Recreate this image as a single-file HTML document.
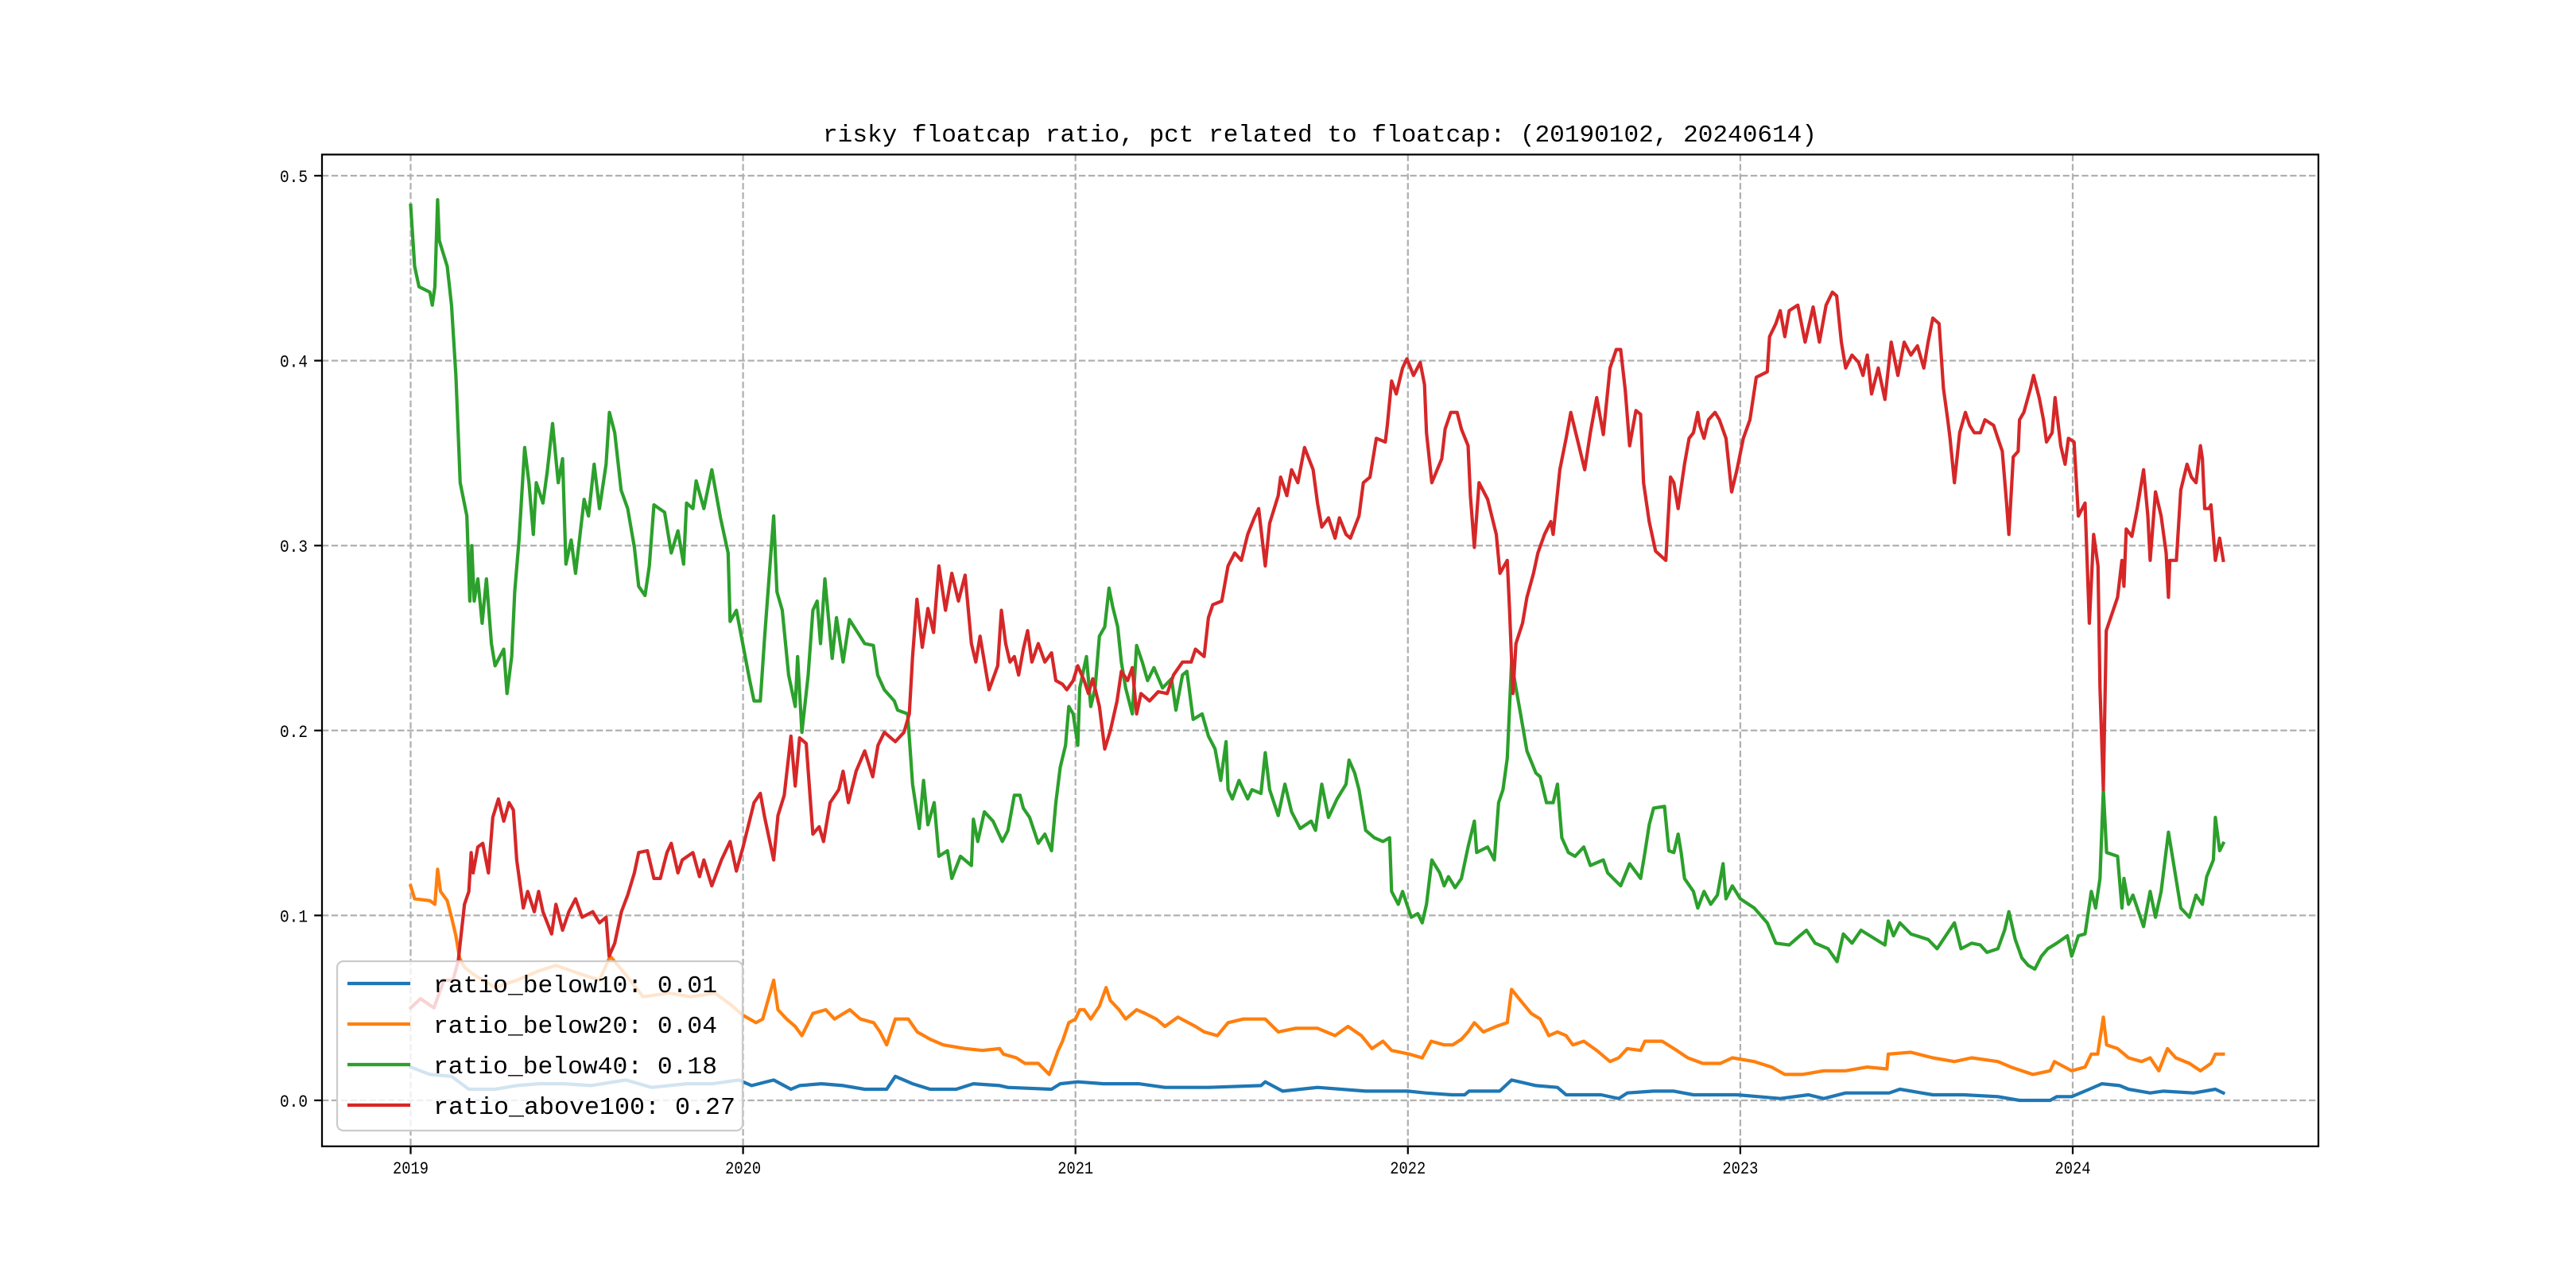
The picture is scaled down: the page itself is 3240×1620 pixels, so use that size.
<!DOCTYPE html>
<html><head><meta charset="utf-8">
<style>
html,body{margin:0;padding:0;background:#fff;}
svg{display:block;}
text{font-family:"Liberation Mono","Noto Sans CJK SC",monospace;fill:#000;}
</style></head>
<body>
<svg id="chart" width="3240" height="1620" viewBox="0 0 3240 1620" xmlns="http://www.w3.org/2000/svg">
  <rect x="0" y="0" width="3240" height="1620" fill="#fff"/>
  <g id="grid"></g>
  <g id="series"></g>
  <rect x="405" y="194.4" width="2511" height="1247.4" fill="none" stroke="#000" stroke-width="2.25"/>
  <g id="ticks"></g>
  <text x="1660" y="178" font-size="31" text-anchor="middle" textLength="1250" lengthAdjust="spacingAndGlyphs">risky floatcap ratio, pct related to floatcap: (20190102, 20240614)</text>
  <g id="legend"></g>
</svg>
<script>
const xTickValues = [2019, 2020, 2021, 2022, 2023, 2024];
const xTickLabels = ["2019", "2020", "2021", "2022", "2023", "2024"];
const yTickValues = [0, 0.1, 0.2, 0.3, 0.4, 0.5];
const yTickLabels = ["0.0", "0.1", "0.2", "0.3", "0.4", "0.5"];
const seriesNames = ["ratio_below10: 0.01", "ratio_below20: 0.04", "ratio_below40: 0.18", "ratio_above100: 0.27"];
const seriesColors = ["#1f77b4", "#ff7f0e", "#2ca02c", "#d62728"];

const tBlue = [2019.0,2019.058,2019.123,2019.175,2019.254,2019.319,2019.385,2019.463,2019.542,2019.647,2019.725,2019.83,2019.908,2019.987,2020.026,2020.092,2020.144,2020.17,2020.236,2020.301,2020.366,2020.432,2020.458,2020.51,2020.563,2020.641,2020.693,2020.772,2020.796,2020.928,2020.954,2021.007,2021.085,2021.19,2021.269,2021.4,2021.558,2021.571,2021.623,2021.728,2021.873,2022.0,2022.053,2022.132,2022.171,2022.184,2022.276,2022.312,2022.385,2022.45,2022.476,2022.581,2022.634,2022.66,2022.739,2022.8,2022.859,2022.99,2023.055,2023.12,2023.205,2023.251,2023.317,2023.448,2023.48,2023.579,2023.671,2023.775,2023.84,2023.932,2023.952,2023.997,2024.05,2024.088,2024.141,2024.168,2024.233,2024.272,2024.364,2024.429,2024.453];
const vBlue = [.018,.014,.013,.006,.006,.008,.009,.009,.008,.011,.007,.009,.009,.011,.008,.011,.006,.008,.009,.008,.006,.006,.013,.009,.006,.006,.009,.008,.007,.006,.009,.01,.009,.009,.007,.007,.008,.01,.005,.007,.005,.005,.004,.003,.003,.005,.005,.011,.008,.007,.003,.003,.001,.004,.005,.005,.003,.003,.002,.001,.003,.001,.004,.004,.006,.003,.003,.002,0,0,.002,.002,.006,.009,.008,.006,.004,.005,.004,.006,.004];

const tOrange = [2019.0,2019.012,2019.058,2019.073,2019.081,2019.09,2019.11,2019.123,2019.136,2019.147,2019.162,2019.19,2019.254,2019.32,2019.385,2019.437,2019.516,2019.568,2019.6,2019.647,2019.699,2019.777,2019.843,2019.915,2019.961,2020.0,2020.039,2020.059,2020.092,2020.105,2020.131,2020.157,2020.177,2020.21,2020.249,2020.275,2020.321,2020.353,2020.393,2020.412,2020.432,2020.458,2020.497,2020.524,2020.563,2020.602,2020.668,2020.72,2020.772,2020.783,2020.822,2020.848,2020.888,2020.921,2020.934,2020.948,2020.961,2020.98,2021.0,2021.013,2021.026,2021.046,2021.072,2021.092,2021.105,2021.131,2021.151,2021.184,2021.21,2021.243,2021.269,2021.308,2021.361,2021.387,2021.427,2021.459,2021.505,2021.571,2021.61,2021.663,2021.728,2021.781,2021.82,2021.86,2021.892,2021.925,2021.951,2022.004,2022.043,2022.07,2022.109,2022.135,2022.161,2022.181,2022.2,2022.227,2022.266,2022.299,2022.312,2022.339,2022.371,2022.398,2022.424,2022.45,2022.476,2022.496,2022.529,2022.568,2022.608,2022.634,2022.66,2022.7,2022.713,2022.765,2022.809,2022.842,2022.887,2022.94,2022.976,2023.042,2023.094,2023.134,2023.186,2023.251,2023.317,2023.382,2023.441,2023.445,2023.513,2023.579,2023.644,2023.696,2023.775,2023.814,2023.88,2023.932,2023.945,2023.997,2024.037,2024.056,2024.075,2024.092,2024.102,2024.135,2024.168,2024.207,2024.233,2024.259,2024.285,2024.31,2024.351,2024.384,2024.416,2024.429,2024.453];
const vOrange = [.116,.109,.108,.106,.125,.113,.108,.099,.089,.077,.072,.068,.061,.065,.07,.073,.068,.065,.078,.068,.056,.058,.056,.058,.052,.046,.042,.044,.065,.049,.044,.04,.035,.047,.049,.044,.049,.044,.042,.037,.03,.044,.044,.037,.033,.03,.028,.027,.028,.025,.023,.02,.02,.014,.02,.027,.032,.042,.044,.049,.049,.044,.051,.061,.054,.049,.044,.049,.047,.044,.04,.045,.04,.037,.035,.042,.044,.044,.037,.039,.039,.035,.04,.035,.028,.032,.027,.025,.023,.032,.03,.03,.033,.037,.042,.037,.04,.042,.06,.054,.047,.044,.035,.037,.035,.03,.032,.027,.021,.023,.028,.027,.032,.032,.027,.023,.02,.02,.023,.021,.018,.014,.014,.016,.016,.018,.017,.025,.026,.023,.021,.023,.021,.018,.014,.016,.021,.016,.018,.025,.025,.045,.03,.028,.023,.021,.023,.016,.028,.023,.02,.016,.02,.025,.025];

const tGreen = [2019.0,2019.012,2019.025,2019.058,2019.065,2019.073,2019.081,2019.086,2019.11,2019.123,2019.136,2019.149,2019.169,2019.178,2019.184,2019.191,2019.202,2019.215,2019.228,2019.243,2019.254,2019.28,2019.29,2019.304,2019.313,2019.326,2019.343,2019.356,2019.369,2019.378,2019.398,2019.411,2019.427,2019.444,2019.457,2019.467,2019.483,2019.496,2019.522,2019.535,2019.552,2019.568,2019.588,2019.598,2019.614,2019.633,2019.653,2019.673,2019.686,2019.705,2019.718,2019.732,2019.764,2019.784,2019.804,2019.821,2019.83,2019.849,2019.859,2019.882,2019.906,2019.932,2019.955,2019.961,2019.98,2020.0,2020.02,2020.033,2020.052,2020.065,2020.092,2020.102,2020.118,2020.137,2020.157,2020.164,2020.177,2020.196,2020.21,2020.223,2020.233,2020.246,2020.268,2020.281,2020.301,2020.32,2020.366,2020.392,2020.405,2020.425,2020.455,2020.465,2020.495,2020.51,2020.53,2020.543,2020.556,2020.575,2020.589,2020.615,2020.628,2020.654,2020.687,2020.693,2020.706,2020.726,2020.752,2020.78,2020.797,2020.816,2020.833,2020.843,2020.862,2020.888,2020.908,2020.928,2020.941,2020.954,2020.97,2020.98,2020.993,2021.007,2021.013,2021.033,2021.046,2021.059,2021.072,2021.088,2021.101,2021.112,2021.127,2021.138,2021.151,2021.171,2021.184,2021.201,2021.217,2021.236,2021.262,2021.289,2021.302,2021.322,2021.335,2021.354,2021.381,2021.4,2021.42,2021.437,2021.453,2021.459,2021.472,2021.492,2021.518,2021.531,2021.558,2021.571,2021.584,2021.61,2021.63,2021.65,2021.676,2021.709,2021.722,2021.741,2021.761,2021.787,2021.814,2021.823,2021.84,2021.853,2021.873,2021.899,2021.925,2021.945,2021.951,2021.971,2021.984,2022.01,2022.03,2022.043,2022.056,2022.072,2022.096,2022.109,2022.122,2022.142,2022.161,2022.181,2022.2,2022.207,2022.24,2022.26,2022.273,2022.286,2022.299,2022.312,2022.325,2022.339,2022.358,2022.385,2022.398,2022.417,2022.437,2022.45,2022.463,2022.483,2022.503,2022.529,2022.549,2022.588,2022.601,2022.64,2022.667,2022.7,2022.713,2022.726,2022.739,2022.772,2022.785,2022.8,2022.813,2022.822,2022.832,2022.859,2022.872,2022.891,2022.911,2022.931,2022.948,2022.957,2022.976,2023.0,2023.042,2023.081,2023.107,2023.147,2023.179,2023.199,2023.225,2023.264,2023.291,2023.31,2023.336,2023.363,2023.408,2023.435,2023.445,2023.461,2023.48,2023.513,2023.565,2023.592,2023.618,2023.644,2023.664,2023.696,2023.722,2023.742,2023.775,2023.795,2023.808,2023.827,2023.847,2023.866,2023.886,2023.906,2023.925,2023.952,2023.984,2023.997,2024.017,2024.037,2024.056,2024.069,2024.082,2024.092,2024.102,2024.135,2024.148,2024.154,2024.168,2024.181,2024.213,2024.233,2024.249,2024.266,2024.288,2024.298,2024.325,2024.351,2024.371,2024.39,2024.403,2024.423,2024.429,2024.442,2024.453];
const vGreen = [.484,.451,.44,.437,.43,.44,.487,.465,.451,.43,.392,.334,.316,.27,.30,.27,.282,.258,.282,.247,.235,.244,.22,.24,.275,.303,.353,.334,.306,.334,.323,.34,.366,.334,.347,.29,.303,.285,.325,.316,.344,.32,.344,.372,.361,.33,.32,.299,.278,.273,.289,.322,.318,.296,.308,.29,.323,.32,.335,.32,.341,.315,.296,.259,.265,.246,.227,.216,.216,.251,.316,.275,.265,.23,.213,.24,.199,.23,.265,.27,.247,.282,.239,.261,.237,.26,.247,.246,.23,.222,.216,.211,.209,.171,.147,.173,.149,.161,.132,.135,.12,.132,.127,.152,.14,.156,.151,.14,.146,.165,.165,.158,.153,.139,.144,.135,.161,.18,.192,.213,.209,.192,.223,.24,.213,.223,.251,.256,.277,.267,.256,.237,.223,.209,.246,.237,.227,.234,.223,.228,.211,.23,.232,.206,.209,.197,.19,.173,.194,.168,.163,.173,.163,.168,.166,.188,.168,.154,.171,.156,.147,.151,.146,.171,.153,.163,.171,.184,.177,.168,.146,.142,.14,.142,.113,.106,.113,.099,.101,.096,.106,.13,.123,.116,.121,.115,.12,.137,.151,.134,.137,.13,.161,.168,.185,.237,.223,.209,.189,.177,.175,.161,.161,.171,.142,.134,.132,.137,.127,.13,.123,.116,.128,.12,.134,.149,.158,.159,.135,.134,.144,.134,.12,.113,.104,.113,.106,.111,.128,.109,.116,.109,.104,.096,.085,.084,.089,.092,.085,.082,.075,.09,.085,.092,.087,.084,.097,.089,.096,.09,.087,.082,.089,.096,.082,.085,.084,.08,.082,.092,.102,.087,.077,.073,.071,.078,.082,.085,.089,.078,.089,.09,.113,.104,.12,.168,.134,.132,.104,.12,.106,.111,.094,.113,.099,.113,.145,.134,.104,.099,.111,.106,.121,.13,.153,.135,.139];

const tRed = [2019.0,2019.03,2019.07,2019.1,2019.127,2019.143,2019.149,2019.162,2019.175,2019.182,2019.188,2019.202,2019.217,2019.234,2019.247,2019.264,2019.28,2019.296,2019.309,2019.319,2019.339,2019.352,2019.372,2019.385,2019.398,2019.424,2019.437,2019.457,2019.476,2019.496,2019.516,2019.548,2019.568,2019.588,2019.597,2019.614,2019.634,2019.653,2019.673,2019.686,2019.712,2019.732,2019.751,2019.771,2019.784,2019.804,2019.817,2019.849,2019.869,2019.882,2019.906,2019.935,2019.961,2019.98,2020.0,2020.033,2020.052,2020.065,2020.092,2020.105,2020.124,2020.144,2020.157,2020.17,2020.19,2020.21,2020.229,2020.242,2020.262,2020.288,2020.301,2020.317,2020.34,2020.366,2020.39,2020.406,2020.425,2020.458,2020.484,2020.5,2020.51,2020.523,2020.539,2020.556,2020.573,2020.589,2020.609,2020.628,2020.648,2020.668,2020.687,2020.7,2020.713,2020.74,2020.766,2020.777,2020.79,2020.803,2020.816,2020.829,2020.843,2020.856,2020.869,2020.888,2020.908,2020.928,2020.941,2020.961,2020.974,2020.993,2021.007,2021.026,2021.039,2021.052,2021.072,2021.088,2021.105,2021.125,2021.138,2021.157,2021.171,2021.184,2021.197,2021.223,2021.249,2021.276,2021.295,2021.322,2021.348,2021.361,2021.387,2021.4,2021.413,2021.44,2021.459,2021.479,2021.499,2021.518,2021.538,2021.551,2021.571,2021.584,2021.61,2021.617,2021.636,2021.65,2021.669,2021.689,2021.715,2021.728,2021.741,2021.761,2021.781,2021.794,2021.814,2021.827,2021.853,2021.866,2021.886,2021.905,2021.932,2021.938,2021.951,2021.965,2021.984,2021.997,2022.017,2022.037,2022.05,2022.056,2022.072,2022.102,2022.112,2022.129,2022.148,2022.161,2022.181,2022.188,2022.2,2022.214,2022.24,2022.266,2022.277,2022.299,2022.306,2022.316,2022.325,2022.345,2022.358,2022.378,2022.391,2022.411,2022.43,2022.437,2022.457,2022.476,2022.49,2022.509,2022.532,2022.549,2022.568,2022.588,2022.608,2022.627,2022.64,2022.654,2022.667,2022.686,2022.7,2022.709,2022.726,2022.745,2022.776,2022.79,2022.8,2022.813,2022.832,2022.846,2022.859,2022.872,2022.878,2022.891,2022.904,2022.924,2022.937,2022.957,2022.974,2022.99,2023.009,2023.029,2023.048,2023.081,2023.088,2023.107,2023.12,2023.134,2023.147,2023.173,2023.195,2023.219,2023.238,2023.258,2023.277,2023.29,2023.304,2023.317,2023.336,2023.356,2023.369,2023.382,2023.395,2023.415,2023.435,2023.454,2023.474,2023.493,2023.513,2023.533,2023.552,2023.565,2023.579,2023.598,2023.611,2023.624,2023.631,2023.644,2023.66,2023.677,2023.69,2023.704,2023.722,2023.736,2023.762,2023.775,2023.788,2023.801,2023.808,2023.821,2023.836,2023.84,2023.853,2023.873,2023.882,2023.899,2023.912,2023.921,2023.938,2023.947,2023.964,2023.977,2023.987,2024.004,2024.017,2024.037,2024.05,2024.063,2024.076,2024.082,2024.092,2024.101,2024.135,2024.148,2024.154,2024.161,2024.178,2024.194,2024.213,2024.226,2024.233,2024.249,2024.266,2024.281,2024.288,2024.292,2024.312,2024.325,2024.344,2024.357,2024.371,2024.384,2024.39,2024.397,2024.41,2024.416,2024.429,2024.442,2024.453];
const vRed = [.05,.055,.05,.065,.065,.075,.085,.106,.113,.134,.123,.137,.139,.123,.153,.163,.151,.161,.157,.13,.104,.113,.102,.113,.102,.09,.106,.092,.102,.109,.099,.102,.096,.099,.078,.085,.102,.111,.123,.134,.135,.12,.12,.134,.139,.123,.13,.134,.121,.13,.116,.13,.14,.124,.137,.161,.166,.153,.13,.154,.165,.197,.17,.196,.193,.144,.148,.14,.161,.168,.178,.161,.178,.189,.175,.192,.199,.194,.199,.209,.24,.271,.245,.266,.253,.289,.265,.285,.27,.284,.247,.237,.251,.222,.235,.265,.247,.237,.24,.23,.244,.254,.237,.247,.237,.242,.227,.225,.222,.227,.235,.227,.22,.228,.213,.19,.2,.216,.232,.227,.234,.209,.22,.216,.221,.22,.23,.237,.237,.244,.24,.261,.268,.27,.289,.296,.292,.306,.315,.32,.289,.312,.327,.337,.327,.341,.334,.353,.341,.323,.31,.315,.304,.315,.306,.304,.316,.334,.337,.358,.356,.365,.389,.382,.396,.401,.392,.399,.387,.361,.334,.347,.363,.372,.372,.363,.354,.327,.299,.334,.325,.306,.285,.292,.265,.22,.247,.258,.272,.285,.296,.306,.313,.306,.341,.358,.372,.358,.341,.361,.38,.36,.396,.406,.406,.384,.354,.373,.371,.334,.313,.297,.292,.337,.334,.32,.344,.358,.361,.372,.365,.358,.368,.372,.368,.358,.329,.341,.358,.368,.391,.394,.413,.42,.427,.413,.427,.43,.41,.429,.41,.43,.437,.435,.41,.396,.403,.399,.392,.403,.382,.396,.379,.41,.392,.41,.403,.408,.396,.41,.423,.42,.385,.368,.358,.334,.361,.372,.365,.361,.361,.368,.365,.358,.351,.323,.306,.348,.351,.368,.372,.385,.392,.38,.368,.356,.361,.38,.354,.344,.358,.356,.316,.323,.258,.306,.289,.223,.168,.254,.272,.292,.278,.309,.305,.32,.341,.316,.292,.329,.316,.296,.272,.292,.292,.33,.344,.337,.334,.354,.347,.32,.32,.322,.292,.304,.292];

const NS = "http://www.w3.org/2000/svg";
function xScale(t){ return 516.5 + (t - 2019) * 418.1; }
function yScale(v){ return 1384 - v * 2326; }
function mk(tag, attrs, parent){
  const el = document.createElementNS(NS, tag);
  for (const k in attrs) el.setAttribute(k, attrs[k]);
  parent.appendChild(el);
  return el;
}
const grid = document.getElementById('grid');
const ticks = document.getElementById('ticks');
const seriesG = document.getElementById('series');
const legend = document.getElementById('legend');

xTickValues.forEach((t, i) => {
  const x = xScale(t);
  const gl = mk('line', {x1:x, x2:x, y1:194.4, y2:1441.8, stroke:'#b0b0b0', 'stroke-width':2.25, 'stroke-dasharray':'8.3 3.6'}, grid);
  
  
  const tk = mk('line', {x1:x, x2:x, y1:1441.8, y2:1451.6, stroke:'#000', 'stroke-width':2.25}, ticks);
  
  
  const lb = mk('text', {x:x, y:1476, 'font-size':22, 'text-anchor':'middle', textLength:45, lengthAdjust:'spacingAndGlyphs'}, ticks);
  lb.textContent = xTickLabels[i];
  
  
});
yTickValues.forEach((v, i) => {
  const y = yScale(v);
  const gl = mk('line', {x1:405, x2:2916, y1:y, y2:y, stroke:'#b0b0b0', 'stroke-width':2.25, 'stroke-dasharray':'8.3 3.6'}, grid);
  
  
  const tk = mk('line', {x1:395.2, x2:405, y1:y, y2:y, stroke:'#000', 'stroke-width':2.25}, ticks);
  
  
  const lb = mk('text', {x:387, y:y + 8, 'font-size':22, 'text-anchor':'end', textLength:35, lengthAdjust:'spacingAndGlyphs'}, ticks);
  lb.textContent = yTickLabels[i];
  
  
});

const allT = [tBlue, tOrange, tGreen, tRed];
const allV = [vBlue, vOrange, vGreen, vRed];
const lineNames = ['line-below10', 'line-below20', 'line-below40', 'line-above100'];
allT.forEach((ts, s) => {
  const pts = ts.map((t, i) => xScale(t).toFixed(1) + ',' + yScale(allV[s][i]).toFixed(1)).join(' ');
  const pl = mk('polyline', {points:pts, fill:'none', stroke:seriesColors[s], 'stroke-width':4.2, 'stroke-linejoin':'round', 'stroke-linecap':'square'}, seriesG);
  
  
});

const lbox = mk('rect', {x:424, y:1209, width:510, height:213, rx:8, fill:'#fff', 'fill-opacity':0.8, stroke:'#cccccc', 'stroke-width':2.25}, legend);


const rowY = [1237, 1288, 1339, 1390];
const textLens = [357, 357, 357, 380];
seriesNames.forEach((n, i) => {
  const ln = mk('line', {x1:437, x2:516, y1:rowY[i], y2:rowY[i], stroke:seriesColors[i], 'stroke-width':4.2}, legend);
  
  
  const tx = mk('text', {x:545, y:rowY[i] + 11, 'font-size':31, textLength:textLens[i], lengthAdjust:'spacingAndGlyphs'}, legend);
  tx.textContent = n;
  
  
});
</script>
</body></html>
